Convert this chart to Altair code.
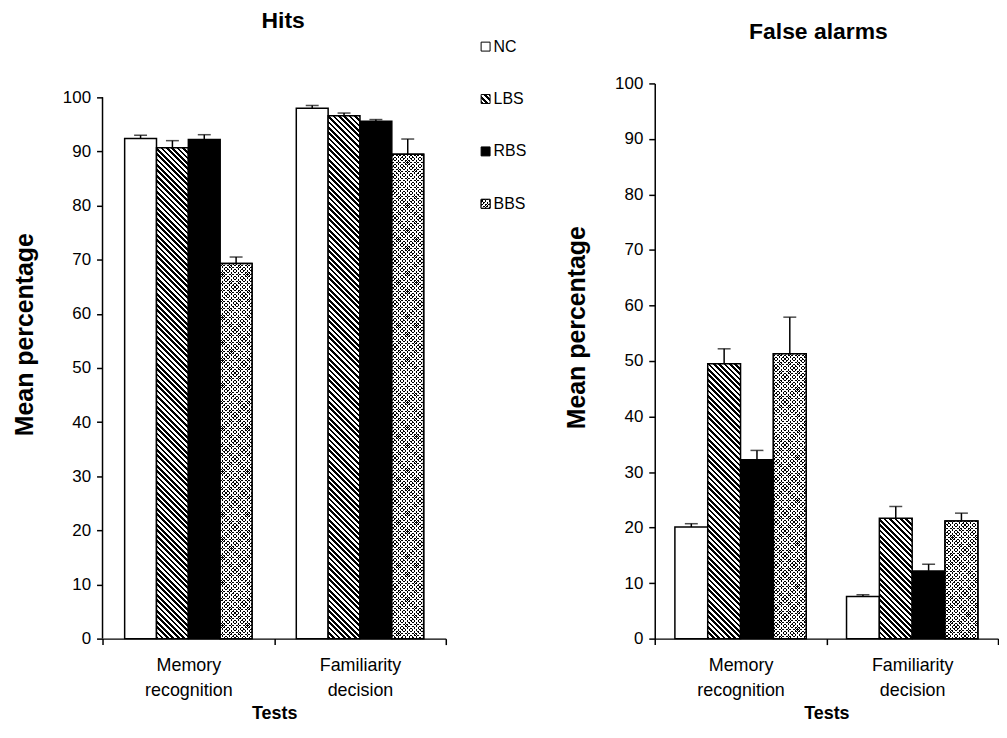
import altair as alt
import pandas as pd

groups = ["NC", "LBS", "RBS", "BBS"]
tests = ["Memory recognition", "Familiarity decision"]

hits_memory = [92.4, 90.7, 92.2, 69.3]
hits_memory_se = [0.6, 1.3, 0.9, 1.2]
hits_familiarity = [98.0, 96.6, 95.6, 89.5]
hits_familiarity_se = [0.5, 0.5, 0.3, 2.8]

fa_memory = [20.1, 49.5, 32.2, 51.3]
fa_memory_se = [0.6, 2.7, 1.7, 6.6]
fa_familiarity = [7.6, 21.7, 12.2, 21.2]
fa_familiarity_se = [0.3, 2.1, 1.2, 1.4]

legend_idx = [0, 1, 2, 3]


def make_df(mem, mem_se, fam, fam_se):
    rows = []
    for g, v, s in zip(groups, mem, mem_se):
        rows.append({"test": tests[0], "group": g, "value": v, "top": v + s})
    for g, v, s in zip(groups, fam, fam_se):
        rows.append({"test": tests[1], "group": g, "value": v, "top": v + s})
    return pd.DataFrame(rows)


hits_df = make_df(hits_memory, hits_memory_se, hits_familiarity, hits_familiarity_se)
fa_df = make_df(fa_memory, fa_memory_se, fa_familiarity, fa_familiarity_se)
legend_df = pd.DataFrame({"group": groups, "idx": legend_idx})

FONT = "Liberation Sans"
H = 558
L = 600.0


def stripe_stops(pitch, on_color, off_color, on_frac):
    parts = []
    i = 0
    while True:
        o0 = i * pitch / L
        if o0 > 1:
            break
        o1 = min((i + on_frac) * pitch / L, 1)
        o2 = min((i + 1) * pitch / L, 1)
        parts.append(f"{{offset:{o0:.5f},color:'{on_color}'}}")
        parts.append(f"{{offset:{o1:.5f},color:'{on_color}'}}")
        parts.append(f"{{offset:{o1:.5f},color:'{off_color}'}}")
        parts.append(f"{{offset:{o2:.5f},color:'{off_color}'}}")
        i += 1
    return "[" + ",".join(parts) + "]"


HATCH = stripe_stops(5.4, "#000000", "#ffffff", 0.5)
DOTS_BASE = stripe_stops(3.6, "#000000", "#ffffff", 0.6)
DOTS_OVER = stripe_stops(3.6, "#ffffff", "rgba(255,255,255,0)", 0.4)


def grad(kind, w, ratio_expr, stops):
    R = f"({ratio_expr})"
    A = f"({L / w:.6f}/(1+{R}*{R}))"
    if kind == "back":
        return f"{{gradient:'linear',x1:0,y1:1,x2:{A},y2:1-{A}*{R},stops:{stops}}}"
    return f"{{gradient:'linear',x1:0,y1:0,x2:{A},y2:{A}*{R},stops:{stops}}}"


def base_fill_expr(w, ratio_expr):
    return (
        "datum.group === 'NC' ? '#ffffff' : datum.group === 'RBS' ? '#000000' : "
        f"datum.group === 'LBS' ? {grad('back', w, ratio_expr, HATCH)} : "
        f"{grad('back', w, ratio_expr, DOTS_BASE)}"
    )


def over_fill_expr(w, ratio_expr):
    return grad("fwd", w, ratio_expr, DOTS_OVER)


def panel(df, width, ymax, pad_outer, title, title_dx, title_offset,
          ytitle_x, ytitle_y, xtitle_y, draw_domain_rule):
    bar_w = (width / 2) / (4 + 2 * pad_outer)
    k = H / ymax
    ratio = f"datum.value*{k / bar_w:.6f}"

    x_enc = alt.X(
        "test:N", sort=tests,
        scale=alt.Scale(paddingInner=0, paddingOuter=0),
        axis=alt.Axis(
            title="Tests", labelAngle=0, tickBand="extent", tickSize=6,
            labelExpr="split(datum.label, ' ')", labelLineHeight=25,
            labelFontSize=18, labelPadding=12, titleFontSize=18,
            titleY=xtitle_y, titleBaseline="alphabetic",
        ),
    )
    xo_enc = alt.XOffset("group:N", sort=groups,
                         scale=alt.Scale(paddingInner=0, paddingOuter=pad_outer))
    y_scale = alt.Scale(domain=[0, ymax], nice=False, zero=True)
    y_enc = alt.Y(
        "value:Q", scale=y_scale,
        axis=alt.Axis(
            title="Mean percentage", values=list(range(0, 101, 10)),
            domain=not draw_domain_rule, tickSize=6, labelFontSize=17,
            labelPadding=6, titleFontSize=25, titleX=ytitle_x, titleY=ytitle_y,
            titleAngle=270, titleBaseline="middle", titleAlign="center",
        ),
    )

    bars = alt.Chart(df).mark_bar(stroke="black", strokeWidth=1.5).transform_calculate(
        fillv=base_fill_expr(bar_w, ratio)
    ).encode(x=x_enc, xOffset=xo_enc, y=y_enc,
             fill=alt.Fill("fillv:N", scale=None, legend=None))

    over = alt.Chart(df).mark_bar(stroke="black", strokeWidth=1.5).transform_filter(
        "datum.group === 'BBS'"
    ).transform_calculate(
        fillv=over_fill_expr(bar_w, ratio)
    ).encode(x=x_enc, xOffset=xo_enc, y=y_enc,
             fill=alt.Fill("fillv:N", scale=None, legend=None))

    err = alt.Chart(df).mark_rule(color="black", strokeWidth=1.5).encode(
        x=x_enc, xOffset=xo_enc, y=y_enc, y2="top:Q")
    cap = alt.Chart(df).mark_tick(color="black", size=13, thickness=1.5).encode(
        x=x_enc, xOffset=xo_enc, y=alt.Y("top:Q"))

    layers = [bars, over, err, cap]
    if draw_domain_rule:
        dom = alt.Chart(pd.DataFrame({"a": [0]})).mark_rule(
            color="black", strokeWidth=1.5
        ).encode(x=alt.value(0), y=alt.datum(0), y2=alt.datum(100))
        layers.append(dom)

    plot = alt.layer(*layers).properties(
        width=width, height=H,
        title=alt.TitleParams(title, fontSize=23, fontWeight="bold", font=FONT,
                              frame="group", anchor="middle", dx=title_dx,
                              offset=title_offset, baseline="alphabetic",
                              color="black"),
    )
    return plot


def legend_layers():
    ly = alt.Y("idx:Q", scale=alt.Scale(domain=[0, 3], range=[-37, 121]), axis=None)
    sq_w = 9
    sq_base = alt.Chart(legend_df).mark_square(
        size=81, stroke="black", strokeWidth=1, opacity=1
    ).transform_calculate(
        fillv=base_fill_expr(sq_w, "1")
    ).encode(x=alt.value(385), y=ly, fill=alt.Fill("fillv:N", scale=None, legend=None))
    sq_over = alt.Chart(legend_df).mark_square(
        size=81, stroke="black", strokeWidth=1, opacity=1
    ).transform_filter("datum.group === 'BBS'").transform_calculate(
        fillv=over_fill_expr(sq_w, "1")
    ).encode(x=alt.value(385), y=ly, fill=alt.Fill("fillv:N", scale=None, legend=None))
    txt = alt.Chart(legend_df).mark_text(
        align="left", baseline="middle", fontSize=16, font=FONT, color="black"
    ).encode(x=alt.value(393), y=ly, text="group:N")
    return alt.layer(sq_base, sq_over, txt)


WL = 345
WR = 345
left_plot = panel(hits_df, WL, 100 * 558 / 544, 0.695, "Hits", 9, -12,
                  -78, 252, 80, True)
right_plot = panel(fa_df, WR, 100, 0.614, "False alarms", -8, 13,
                   -79, 245, 80, False)

left = alt.layer(left_plot, legend_layers()).resolve_scale(y="independent")

chart = alt.hconcat(left, right_plot, spacing=210, bounds="flush").resolve_scale(
    y="independent", x="independent", xOffset="independent"
).configure_view(stroke=None).configure_axis(
    domainColor="black", tickColor="black", labelColor="black", titleColor="black",
    domainWidth=1.5, tickWidth=1.5, labelFont=FONT, titleFont=FONT, grid=False,
    titleFontWeight="bold",
).configure_text(font=FONT).properties(
    background="white",
    padding={"left": 5, "top": 0, "right": 0, "bottom": 0},
)

chart.save("out.html", embed_options={"renderer": "svg", "actions": False})
